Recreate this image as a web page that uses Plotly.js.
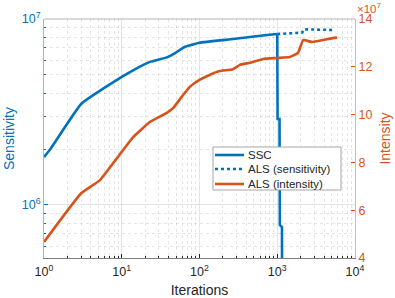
<!DOCTYPE html>
<html>
<head>
<meta charset="utf-8">
<script src="https://cdn.plot.ly/plotly-3.0.1.min.js"></script>
<style>html,body{margin:0;padding:0;background:#fff;}#chart{width:395px;height:298px;}</style>
</head>
<body>
<div id="chart"></div>
<script>
// SSC sensitivity
const sscIter = [1, 1.19, 3, 10, 14, 23, 38, 48, 65, 100, 270, 740, 1000, 1010, 1070, 1080, 1150, 1160];
const sscSens = [1.81e6, 1.98e6, 3.49e6, 4.88e6, 5.3e6, 5.88e6, 6.22e6, 6.54e6, 7.09e6, 7.46e6, 7.8e6, 8.2e6, 8.3e6, 2.9e6, 2.9e6, 7.8e5, 7.6e5, 1e5];
// ALS sensitivity
const alsSensIter = [1000, 1500, 1900, 2100, 2200, 3000, 5200];
const alsSens = [8.3e6, 8.35e6, 8.42e6, 8.45e6, 8.8e6, 8.75e6, 8.73e6];
// ALS intensity (x 10^7)
const alsIntIter = [1, 3, 5.25, 10, 14, 23, 38, 46, 59, 75, 100, 135, 183, 270, 330, 445, 660, 1020, 1450, 1850, 2150, 2800, 5200, 5870];
const alsInt = [4.67, 6.71, 7.26, 8.44, 9.06, 9.69, 10.07, 10.28, 10.74, 11.16, 11.45, 11.66, 11.82, 11.9, 12.08, 12.17, 12.33, 12.37, 12.41, 12.58, 13.12, 13.04, 13.2, 13.22];
// legend / tick labels
const seriesNames = ['SSC', 'ALS (sensitivity)', 'ALS (intensity)'];
const xTickVals = [1, 10, 100, 1000, 10000];
const xTickText = ['10<sup>0</sup>', '10<sup>1</sup>', '10<sup>2</sup>', '10<sup>3</sup>', '10<sup>4</sup>'];
const yTickVals = [1e6, 1e7];
const yTickText = ['10<sup>6</sup>', '10<sup>7</sup>'];
const y2TickVals = [4, 6, 8, 10, 12, 14];

const BLUE = '#0072BD', ORANGE = '#D95319', GRAY = '#262626';
const xMinor = [], yMinor = [];
for (let d = 1; d <= 1000; d *= 10) for (let k = 2; k <= 9; k++) xMinor.push(k * d);
for (let d = 1e5; d <= 1e6; d *= 10) for (let k = 2; k <= 9; k++) yMinor.push(k * d);

const dropIdx = sscIter.indexOf(1000);
const font = 'Liberation Sans, Arial, Helvetica, sans-serif';
const LW = 2.6;
const traces = [
  {x: sscIter.slice(0, dropIdx + 1), y: sscSens.slice(0, dropIdx + 1), name: seriesNames[0], mode: 'lines',
   line: {color: BLUE, width: LW, shape: 'spline', smoothing: 0.3}, xaxis: 'x', yaxis: 'y'},
  {x: sscIter.slice(dropIdx), y: sscSens.slice(dropIdx), name: seriesNames[0], mode: 'lines',
   line: {color: BLUE, width: LW}, xaxis: 'x', yaxis: 'y'},
  {x: alsSensIter, y: alsSens, name: seriesNames[1], mode: 'lines', line: {color: BLUE, width: LW, dash: 'dot'}, xaxis: 'x', yaxis: 'y'},
  {x: alsIntIter, y: alsInt, name: seriesNames[2], mode: 'lines', line: {color: ORANGE, width: LW, shape: 'spline', smoothing: 0.3}, xaxis: 'x', yaxis: 'y2'}
];

// legend drawn as box + samples + labels (paper coordinates)
const lg = {x0: 0.5434, x1: 0.955, y0: 0.2845, y1: 0.4644, sx0: 0.5498, sx1: 0.643, tx: 0.6527, rows: [0.431, 0.3724, 0.3096]};
const legendStyles = [{color: BLUE, dash: 'solid'}, {color: BLUE, dash: 'dot'}, {color: ORANGE, dash: 'solid'}];
const shapes = [
  {type: 'line', xref: 'paper', yref: 'paper', x0: 0, x1: 1, y0: 1, y1: 1, line: {color: 'rgba(38,38,38,0.35)', width: 1}},
  {type: 'rect', xref: 'paper', yref: 'paper', x0: lg.x0, x1: lg.x1, y0: lg.y0, y1: lg.y1, fillcolor: '#fff', line: {color: '#a6a6a6', width: 1}, layer: 'above'}
];
const annotations = [{xref: 'paper', yref: 'paper', x: 1, y: 1, xanchor: 'left', yanchor: 'bottom', yshift: 3, xshift: 1,
                      text: '×10<sup>7</sup>', showarrow: false, font: {size: 11.5, color: ORANGE}, borderpad: 0}];
seriesNames.forEach((n, i) => {
  shapes.push({type: 'line', xref: 'paper', yref: 'paper', x0: lg.sx0, x1: lg.sx1, y0: lg.rows[i], y1: lg.rows[i],
               line: {color: legendStyles[i].color, width: LW, dash: legendStyles[i].dash}, layer: 'above'});
  annotations.push({xref: 'paper', yref: 'paper', x: lg.tx, y: lg.rows[i], xanchor: 'left', yanchor: 'middle',
                    text: n, showarrow: false, font: {size: 11.5, color: GRAY}, borderpad: 0});
});

const gridc = 'rgba(38,38,38,0.12)';
const layout = {
  width: 395, height: 298,
  margin: {l: 44, r: 40, t: 19, b: 40},
  paper_bgcolor: '#fff', plot_bgcolor: '#fff',
  font: {family: font, size: 12, color: GRAY},
  showlegend: false,
  xaxis: {type: 'log', range: [0, 4], tickvals: xTickVals, ticktext: xTickText, ticks: 'inside', ticklen: 4,
          tickcolor: GRAY, showline: true, linecolor: 'rgba(38,38,38,0.6)', zeroline: false,
          showgrid: true, gridcolor: gridc, ticklabelstandoff: 2,
          minor: {tickvals: xMinor, ticks: 'inside', ticklen: 2, tickcolor: GRAY, showgrid: true, gridcolor: gridc, griddash: 'dot'},
          tickfont: {size: 12.5, color: GRAY},
          title: {text: 'Iterations', font: {size: 14, color: GRAY}, standoff: 9}},
  yaxis: {type: 'log', range: [5.715, 7], tickvals: yTickVals, ticktext: yTickText, ticks: 'inside', ticklen: 4,
          tickcolor: BLUE, showline: true, linecolor: 'rgba(0,114,189,0.45)', zeroline: false,
          showgrid: true, gridcolor: gridc,
          minor: {tickvals: yMinor, ticks: 'inside', ticklen: 2, tickcolor: BLUE, showgrid: true, gridcolor: gridc, griddash: 'dot'},
          tickfont: {size: 12.5, color: BLUE},
          title: {text: 'Sensitivity', font: {size: 14, color: BLUE}, standoff: 3}},
  yaxis2: {overlaying: 'y', side: 'right', range: [4, 14], tickvals: y2TickVals, ticks: 'inside', ticklen: 4,
           tickcolor: ORANGE, showline: true, linecolor: 'rgba(217,83,25,0.45)', zeroline: false, showgrid: false,
           tickfont: {size: 12.5, color: ORANGE},
           title: {text: 'Intensity', font: {size: 14, color: ORANGE}, standoff: 8}},
  shapes: shapes,
  annotations: annotations
};
Plotly.newPlot('chart', traces, layout, {displayModeBar: false, staticPlot: true});
</script>
</body>
</html>
